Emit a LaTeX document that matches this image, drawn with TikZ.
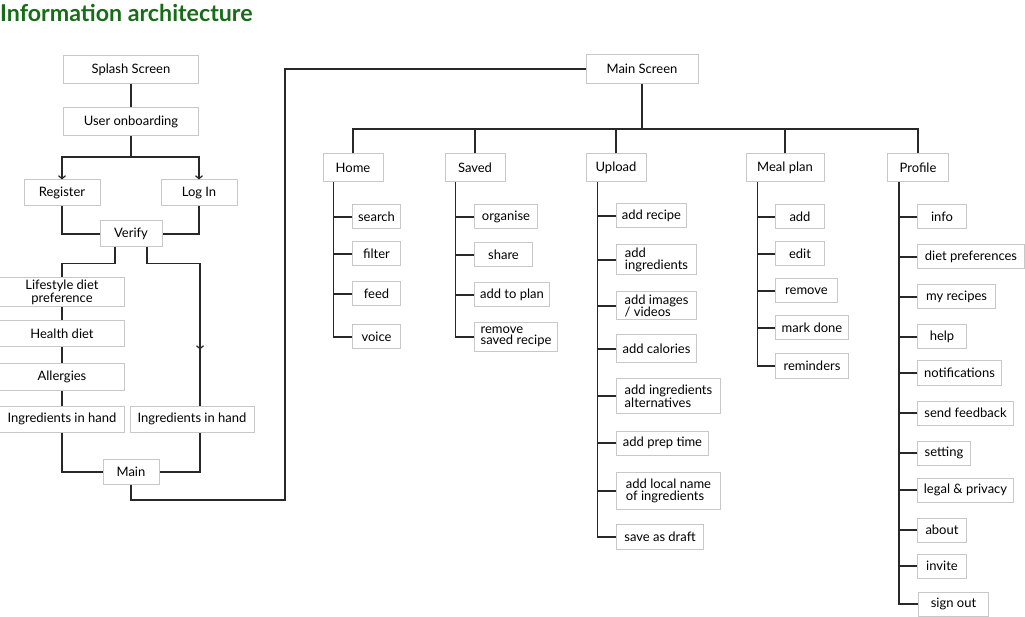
\documentclass[tikz,border=0pt]{standalone}
\usepackage{fontspec}
\setmainfont{Lato}
\usetikzlibrary{arrows.meta,positioning}
\definecolor{titlegreen}{RGB}{24,108,24}
\definecolor{boxgray}{RGB}{200,200,200}
\definecolor{linegray}{RGB}{40,40,40}

\begin{document}
\begin{tikzpicture}[
    x=1pt, y=-1pt,
    box/.style={draw=boxgray, line width=1pt, rectangle, fill=white, inner sep=2pt,
        align=center, font=\fontsize{13}{11.5}\selectfont},
    item/.style={box, anchor=west, minimum height=24pt},
    twoline/.style={align=left, minimum height=#1},
    link/.style={draw=linegray, line width=1.2pt},
    arrow/.style={link, -{Straight Barb[length=3pt, width=7pt]}},
]
\useasboundingbox (0,0) rectangle (1025,617);

\node[anchor=base west, inner sep=0, font=\fontsize{23.2}{24}\selectfont\bfseries,
    text=titlegreen] (title) at (0,21.5) {Information architecture};

% onboarding flow
\node[box, minimum width=135pt, minimum height=28pt] (splash) at (131,69.5) {Splash Screen};
\node[box, minimum width=135pt, minimum height=28pt] (onboard) at (131,121.5) {User onboarding};
\node[box, minimum width=76pt, minimum height=26pt] (register) at (62,193) {Register};
\node[box, minimum width=76pt, minimum height=26pt] (login) at (199,193) {Log In};
\node[box, minimum width=62pt, minimum height=26pt] (verify) at (131,234) {Verify};
\node[box, minimum width=125pt, minimum height=26pt] (lifestyle) at (62,292) {Lifestyle diet\\preference};
\node[box, minimum width=125pt, minimum height=26pt] (health) at (62,334) {Health diet};
\node[box, minimum width=125pt, minimum height=26pt] (allergy) at (62,377) {Allergies};
\node[box, minimum width=125pt, minimum height=26pt] (ingrleft) at (62,419) {Ingredients in hand};
\node[box, minimum width=124pt, minimum height=26pt] (ingrright) at (192,419) {Ingredients in hand};
\node[box, minimum width=56pt, minimum height=25pt] (main) at (131,472) {Main};

\coordinate (split) at (131,157);
\coordinate (loop) at (285,500);

\draw[link] (splash) -- (onboard);
\draw[link] (onboard) -- (split);
\draw[arrow] (split) -| (register.north);
\draw[arrow] (split) -| (login.north);
\draw[link] (register.south) |- (verify.west);
\draw[link] (login.south) |- (verify.east);
\draw[link] ([xshift=-16pt]verify.south) -- ++(0,16) -| (lifestyle.north);
\draw[arrow] ([xshift=16pt]verify.south) -- ++(0,16) -| ([xshift=8pt, yshift=56pt]ingrright.north);
\draw[link] ([xshift=8pt, yshift=57pt]ingrright.north) -- ([xshift=8pt]ingrright.north);
\draw[link] (lifestyle) -- (health);
\draw[link] (health) -- (allergy);
\draw[link] (allergy) -- (ingrleft);
\draw[link] (ingrleft.south) |- (main.west);
\draw[link] ([xshift=8pt]ingrright.south) |- (main.east);

% main screen
\node[box, minimum width=112pt, minimum height=29pt] (mainscr) at (642,69) {Main Screen};
\draw[link] (main.south) |- (loop) |- (mainscr.west);

\node[box, minimum width=60pt, minimum height=28pt] (home) at (353,168) {Home};
\node[box, minimum width=60pt, minimum height=28pt] (saved) at (475,168) {Saved};
\node[box, minimum width=60pt, minimum height=28pt] (upload) at (616,168) {Upload};
\node[box, minimum width=78pt, minimum height=28pt] (meal) at (785,168) {Meal plan};
\node[box, minimum width=61pt, minimum height=28pt] (profile) at (918,168) {Profile};

\coordinate (bus) at (642,129);
\draw[link] (mainscr) -- (bus);
\draw[link] (home.north) |- (bus) -| (profile.north);
\foreach \n in {saved,upload,meal}
    \draw[link] (\n.north) -- (\n.north |- bus);

% home
\node[item, minimum width=48pt] (search) at (352,217) {search};
\node[item, minimum width=48pt] (filter) at (352,254) {filter};
\node[item, minimum width=48pt] (feed) at (352,294) {feed};
\node[item, minimum width=48pt] (voice) at (352,337) {voice};
\draw[link] ([xshift=11pt]home.south west) |- (voice.west);
\foreach \n in {search,filter,feed}
    \draw[link] (\n.west) -- ++(-18,0);

% saved
\node[item, minimum width=63pt] (organise) at (474,217) {organise};
\node[item, minimum width=58pt] (share) at (474,255) {share};
\node[item, minimum width=75pt] (toplan) at (474,295) {add to plan};
\node[item, twoline=29pt, minimum width=83pt] (unsave) at (474,337) {remove\\saved recipe};
\draw[link] ([xshift=11pt]saved.south west) |- (unsave.west);
\foreach \n in {organise,share,toplan}
    \draw[link] (\n.west) -- ++(-18,0);

% upload
\node[item, minimum width=70pt] (recipe) at (616,216) {add recipe};
\node[item, twoline=30pt, minimum width=80pt] (ingr) at (616,260) {add\\ingredients};
\node[item, twoline=28pt, minimum width=80pt] (images) at (616,306) {add images\\/ videos};
\node[item, minimum width=80pt, minimum height=28pt] (calories) at (616,349) {add calories};
\node[item, twoline=35pt, minimum width=104pt] (altern) at (616,396) {add ingredients\\alternatives};
\node[item, minimum width=92pt] (preptime) at (616,443) {add prep time};
\node[item, twoline=37pt, minimum width=104pt] (localname) at (616,491) {add local name\\of ingredients};
\node[item, minimum width=87pt, minimum height=25pt] (draft) at (616,537) {save as draft};
\draw[link] ([xshift=12pt]upload.south west) |- (draft.west);
\foreach \n in {recipe,ingr,images,calories,altern,preptime,localname}
    \draw[link] (\n.west) -- ++(-18,0);

% meal plan
\node[item, minimum width=49pt] (mpadd) at (775,217) {add};
\node[item, minimum width=49pt] (mpedit) at (775,254) {edit};
\node[item, minimum width=62pt] (mpremove) at (775,291) {remove};
\node[item, minimum width=73pt] (mpdone) at (775,328) {mark done};
\node[item, minimum width=73pt] (mpremind) at (775,366) {reminders};
\draw[link] ([xshift=12pt]meal.south west) |- (mpremind.west);
\foreach \n in {mpadd,mpedit,mpremove,mpdone}
    \draw[link] (\n.west) -- ++(-17,0);

% profile
\node[item, minimum width=49pt] (info) at (917,217) {info};
\node[item, minimum width=107pt] (dietpref) at (917,257) {diet preferences};
\node[item, minimum width=78pt] (myrecipes) at (917,297) {my recipes};
\node[item, minimum width=49pt] (help) at (917,337) {help};
\node[item, minimum width=84pt] (notif) at (917,373) {notifications};
\node[item, minimum width=96pt] (feedback) at (917,413) {send feedback};
\node[item, minimum width=53pt] (setting) at (917,453) {setting};
\node[item, minimum width=96pt] (legal) at (917,490) {legal \& privacy};
\node[item, minimum width=49pt] (about) at (917,530) {about};
\node[item, minimum width=49pt] (invite) at (917,566) {invite};
\node[item, minimum width=70pt] (signout) at (918,604) {sign out};
\draw[link] ([xshift=12pt]profile.south west) |- (signout.west);
\foreach \n in {info,dietpref,myrecipes,help,notif,feedback,setting,legal,about,invite}
    \draw[link] (\n.west) -- ++(-17,0);

\end{tikzpicture}
\end{document}
